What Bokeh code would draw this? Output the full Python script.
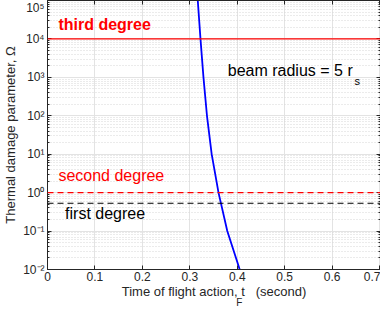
from bokeh.plotting import figure
from bokeh.models import (FixedTicker, LogAxis, LinearAxis, Label, Span,
                          CustomJSTickFormatter, Range1d)
from bokeh.embed import file_html
from bokeh.resources import INLINE

# ---- data ----
t_flight = [0.3168, 0.3225, 0.3288, 0.3362, 0.3461, 0.3605, 0.3790, 0.4052]
omega = [1e5, 1e4, 1e3, 1e2, 1e1, 1e0, 1e-1, 1e-2]

first_degree = 0.53
second_degree = 1.0
third_degree = 1e4

x_ticks = [0, 0.1, 0.2, 0.3, 0.4, 0.5, 0.6, 0.7]
x_tick_labels = ["0", "0.1", "0.2", "0.3", "0.4", "0.5", "0.6", "0.7"]
y_ticks = [1e-2, 1e-1, 1e0, 1e1, 1e2, 1e3, 1e4, 1e5]
y_tick_labels = ["10\u207b\u00b2", "10\u207b\u00b9", "10\u2070", "10\u00b9",
                 "10\u00b2", "10\u00b3", "10\u2074", "10\u2075"]
y_minor = [k * 10.0 ** n for n in range(-2, 5) for k in range(2, 10)]

FONT = "Liberation Sans"
AX = "#262626"

p = figure(width=380, height=310, y_axis_type="log",
           x_range=Range1d(0, 0.702), y_range=Range1d(1e-2, 1e5),
           output_backend="svg", toolbar_location=None,
           min_border_left=0, min_border_right=0, min_border_top=0,
           min_border_bottom=0)
p.background_fill_color = "white"
p.outline_line_color = AX

# axes
p.xaxis.ticker = FixedTicker(ticks=x_ticks)
p.xaxis.major_label_overrides = dict(zip(x_ticks, x_tick_labels))
p.xaxis.axis_label = "Time of flight action, t\u00a0\u00a0\u00a0(second)"
p.yaxis.ticker = FixedTicker(ticks=y_ticks, minor_ticks=y_minor)
p.yaxis.major_label_overrides = dict(zip(y_ticks, y_tick_labels))
p.yaxis.axis_label = "Thermal damage parameter, \u03a9"

for ax in (p.xaxis[0], p.yaxis[0]):
    ax.axis_line_color = AX
    ax.major_tick_line_color = AX
    ax.minor_tick_line_color = AX
    ax.major_tick_in = 4
    ax.major_tick_out = 0
    ax.minor_tick_in = 2
    ax.minor_tick_out = 0
    ax.major_label_text_font = FONT
    ax.major_label_text_font_size = "12px"
    ax.major_label_text_color = AX
    ax.axis_label_text_font = FONT
    ax.axis_label_text_font_size = "13px"
    ax.axis_label_text_font_style = "normal"
    ax.axis_label_text_color = AX
    ax.major_label_standoff = 3
p.xaxis.minor_tick_line_color = None
p.yaxis.axis_label_standoff = 2
p.xaxis.major_label_standoff = 2
p.xaxis.axis_label_standoff = 0
p.xaxis.axis_label_text_line_height = 0.8
p.xaxis.major_label_text_line_height = 0.8

blank = CustomJSTickFormatter(code="return ''")
right = LogAxis(ticker=FixedTicker(ticks=y_ticks, minor_ticks=y_minor), formatter=blank,
                major_tick_in=4, major_tick_out=0, minor_tick_in=2, minor_tick_out=0,
                axis_line_color=AX, major_tick_line_color=AX, minor_tick_line_color=AX,
                major_label_standoff=0, axis_label_standoff=0,
                major_label_text_font_size="0px")
p.add_layout(right, "right")
top = LinearAxis(ticker=FixedTicker(ticks=x_ticks), formatter=blank,
                 major_tick_in=4, major_tick_out=0, minor_tick_line_color=None,
                 axis_line_color=AX, major_tick_line_color=AX, major_label_standoff=0,
                 axis_label_standoff=0, major_label_text_font_size="0px")
p.add_layout(top, "above")

# subscript F of the x-axis label: a bare axis row whose only tick label is "F"
sub_x = 0.4045
sub = LinearAxis(ticker=FixedTicker(ticks=[sub_x], minor_ticks=[]),
                 major_label_overrides={sub_x: "F"},
                 axis_line_color=None, major_tick_line_color=None, minor_tick_line_color=None,
                 major_tick_in=0, major_tick_out=0, major_label_standoff=-5,
                 axis_label_standoff=0,
                 major_label_text_font=FONT, major_label_text_font_size="10px",
                 major_label_text_color=AX, major_label_text_align="left",
                 major_label_text_line_height=0.8)
p.add_layout(sub, "below")

# grids
p.xgrid.ticker = FixedTicker(ticks=x_ticks)
p.xgrid.grid_line_color = "#e3e3e3"
p.ygrid.ticker = FixedTicker(ticks=y_ticks, minor_ticks=y_minor)
p.ygrid.grid_line_color = "#e3e3e3"
p.ygrid.minor_grid_line_color = "#d6d6d6"
p.ygrid.minor_grid_line_dash = "1 2"

# threshold lines
p.add_layout(Span(location=third_degree, dimension="width", line_color="#ff0000", line_width=1.2))
p.add_layout(Span(location=second_degree, dimension="width", line_color="#ff0000",
                  line_width=1.2, line_dash="6 4"))
p.add_layout(Span(location=first_degree, dimension="width", line_color="#000000",
                  line_width=1.2, line_dash="6 4"))

# curve
p.line(t_flight, omega, line_color="#0000ff", line_width=1.8, line_join="round")

# texts
p.add_layout(Label(x=0.023, y=1.4e4, text="third degree", text_color="#ff0000",
                   text_font=FONT, text_font_size="16px", text_font_style="bold"))
p.add_layout(Label(x=0.023, y=1.66, text="second degree", text_color="#ff0000",
                   text_font=FONT, text_font_size="16px"))
p.add_layout(Label(x=0.037, y=0.173, text="first degree", text_color="#000000",
                   text_font=FONT, text_font_size="16px"))
p.add_layout(Label(x=0.38, y=895, text="beam radius = 5 r", text_color="#000000",
                   text_font=FONT, text_font_size="16px"))
p.add_layout(Label(x=0.647, y=565, text="s", text_color="#000000",
                   text_font=FONT, text_font_size="11px"))

open("out.html", "w").write(file_html(p, INLINE))
